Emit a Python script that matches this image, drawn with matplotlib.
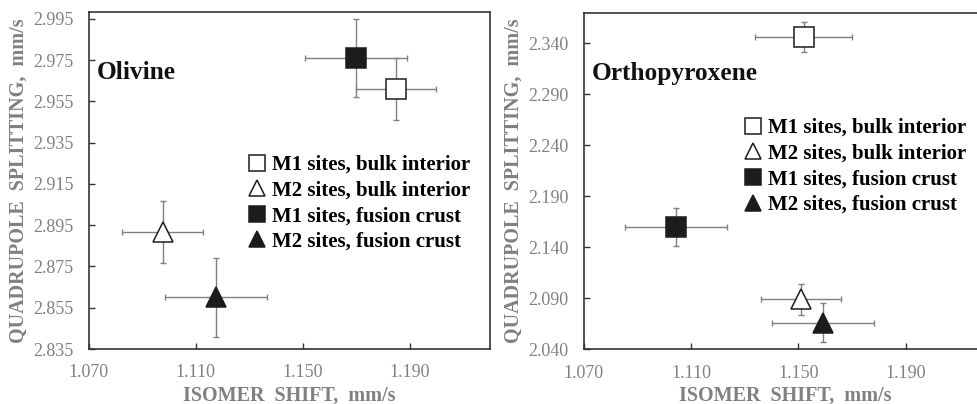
import matplotlib
matplotlib.use("Agg")
import matplotlib.pyplot as plt
from matplotlib.lines import Line2D

plt.rcParams['font.family'] = 'Liberation Serif'

# series order: M1 bulk, M2 bulk, M1 crust, M2 crust
labels = ["M1 sites, bulk interior", "M2 sites, bulk interior",
          "M1 sites, fusion crust", "M2 sites, fusion crust"]

# olivine
ol_is = [1.185, 1.0976, 1.170, 1.1176]
ol_qs = [2.961, 2.8918, 2.976, 2.860]
ol_is_err = [0.015, 0.015, 0.019, 0.019]
ol_qs_err = [0.015, 0.015, 0.019, 0.019]

# orthopyroxene
opx_is = [1.152, 1.151, 1.1043, 1.1592]
opx_qs = [2.346, 2.089, 2.160, 2.066]
opx_is_err = [0.018, 0.015, 0.019, 0.019]
opx_qs_err = [0.015, 0.015, 0.019, 0.019]

x_ticks = [1.070, 1.110, 1.150, 1.190]
ol_y_ticks = [2.835, 2.855, 2.875, 2.895, 2.915, 2.935, 2.955, 2.975, 2.995]
opx_y_ticks = [2.040, 2.090, 2.140, 2.190, 2.240, 2.290, 2.340]

markers = ['s', '^', 's', '^']
faces = ['white', 'white', '#1c1c1c', '#1c1c1c']
gray = '#808080'
dark = '#1c1c1c'

fig = plt.figure(figsize=(9.77, 4.04), dpi=100)
ax1 = fig.add_axes([0.0908, 0.1361, 0.4107, 0.8354])
ax2 = fig.add_axes([0.5974, 0.1354, 0.4118, 0.8332])


def draw(ax, xs, ys, xerr, yerr, yticks, ylim, name, leg_pos):
    for i in range(len(xs)):
        ax.errorbar(xs[i], ys[i], xerr=xerr[i], yerr=yerr[i], fmt='none',
                    ecolor=gray, elinewidth=1, capsize=2.2, capthick=1, zorder=2)
        ax.plot(xs[i], ys[i], marker=markers[i], ms=14.5, mfc=faces[i],
                mec=dark, mew=1.1, ls='none', zorder=3)
    ax.set_xlim(1.07, 1.22)
    ax.set_ylim(*ylim)
    ax.set_xticks(x_ticks)
    ax.set_xticklabels(['%.3f' % v for v in x_ticks])
    ax.set_yticks(yticks)
    ax.set_yticklabels(['%.3f' % v for v in yticks])
    ax.tick_params(direction='in', length=4, width=1, colors='#333333',
                   labelcolor=gray, labelsize=13)
    ax.tick_params(axis='x', pad=11)
    ax.tick_params(axis='y', pad=11)
    for s in ax.spines.values():
        s.set_color('#333333')
        s.set_linewidth(1.2)
    ax.set_xlabel('ISOMER  SHIFT,  mm/s', color=gray, fontweight='bold',
                  fontsize=14.5, labelpad=3)
    ax.set_ylabel('QUADRUPOLE  SPLITTING,  mm/s', color=gray, fontweight='bold',
                  fontsize=14.5, labelpad=3)
    ax.text(0.02, 0.82, name, transform=ax.transAxes, fontsize=18.3,
            fontweight='bold', color='#111111', va='center')
    handles = [Line2D([], [], marker=markers[i], ms=11, mfc=faces[i], mec=dark,
                      mew=1.1, ls='none') for i in range(4)]
    ax.legend(handles, labels, loc='upper left', bbox_to_anchor=leg_pos,
              frameon=False, handlelength=0.8, handletextpad=0.3,
              labelspacing=0.27, borderaxespad=0,
              prop={'family': 'Liberation Serif', 'weight': 'bold', 'size': 15})


draw(ax1, ol_is, ol_qs, ol_is_err, ol_qs_err, ol_y_ticks, (2.835, 2.9985),
     'Olivine', (0.378, 0.6))
draw(ax2, opx_is, opx_qs, opx_is_err, opx_qs_err, opx_y_ticks, (2.040, 2.370),
     'Orthopyroxene', (0.38, 0.712))

fig.savefig('out.png', dpi=100)
